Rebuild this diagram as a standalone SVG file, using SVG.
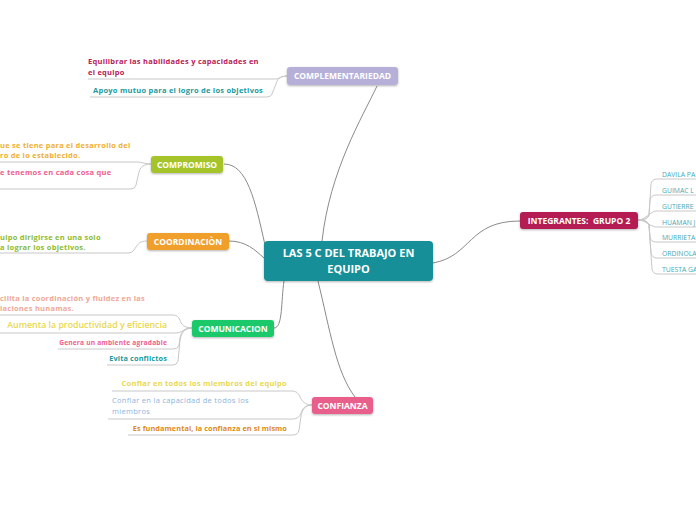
<svg xmlns="http://www.w3.org/2000/svg" width="696" height="520" viewBox="0 0 696 520">
<defs>
<filter id="sh" x="-10%" y="-20%" width="120%" height="150%"><feDropShadow dx="0" dy="1" stdDeviation="0.8" flood-color="#000" flood-opacity="0.3"/></filter>
<style>
text{font-family:"Open Sans","Noto Sans","DejaVu Sans",sans-serif}
.nt{fill:#fff;font-weight:bold;font-size:8.5px;text-anchor:middle}
.ct{fill:#fff;font-weight:bold;font-size:11px;text-anchor:middle}
.st{font-weight:bold;font-size:7.5px;letter-spacing:0.25px}
.rg{font-size:7.5px;letter-spacing:0.3px}
.nm{font-size:6.8px;fill:#45aab8}
.e{text-anchor:end}
.main{fill:none;stroke:#8a8a8a;stroke-width:1}
.sub{fill:none;stroke:#c8c8c8;stroke-width:1}
</style>
</defs>
<rect width="696" height="520" fill="#fff"/>
<g id="connectors">
<path class="main" d="M322,241 C330,170 362,118 377,86"/>
<path class="main" d="M224,164 C247,164 255,200 265,245"/>
<path class="main" d="M229,241 C246,241 255,250 264,258"/>
<path class="main" d="M274,328 C283,328 281,300 284,281"/>
<path class="main" d="M318,281 C330,330 336,372 355,397"/>
<path class="main" d="M433,263 C472,256 468,221 520,221"/>
<path class="sub" d="M287,76 C281,76 280,79 275,79 L88,79"/>
<path class="sub" d="M287,76 C279,76 277,80 276,84 L272,94 Q271,97 267,97 L90,97"/>
<path class="sub" d="M151,164 C145,164 142,162 137,162 L0,162"/>
<path class="sub" d="M151,164 C143,164 140,168 139,172 L136,185 Q135,189 131,189 L0,189"/>
<path class="sub" d="M147,241 C140,241 138,244 136,247 L134,250 Q132,253 128,253 L0,253"/>
<path class="sub" d="M192,328 C184,328 181,324 180,320 Q178,315 173,315 L0,315"/>
<path class="sub" d="M192,328 C184,328 182,333 176,333 L0,333"/>
<path class="sub" d="M192,328 C184,328 181,332 180,338 L179,345 Q178,349 174,349 L58,349"/>
<path class="sub" d="M192,328 C184,328 181,334 180,340 L178,361 Q177,365 173,365 L107,365"/>
<path class="sub" d="M312,405 C305,405 302,401 300,397 Q298,391 292,391 L112,391"/>
<path class="sub" d="M312,405 C305,405 302,409 301,413 Q299,419 293,419 L108,419"/>
<path class="sub" d="M312,405 C305,405 302,410 301,416 L299,430 Q298,435 293,435 L128,435"/>
<path class="sub" d="M638,220 C645,220 648,218 649,215 L651,184 Q652,179 657,179 L696,179"/>
<path class="sub" d="M638,220 C645,220 648,218 649,215 L650,200 Q651,195 656,195 L696,195"/>
<path class="sub" d="M638,220 C646,220 650,211 657,211 L696,211"/>
<path class="sub" d="M638,220 C646,220 650,227 657,227 L696,227"/>
<path class="sub" d="M638,220 C645,220 648,222 649,225 L650,237 Q651,242 656,242 L696,242"/>
<path class="sub" d="M638,220 C645,220 648,222 649,225 L651,253 Q652,258 657,258 L696,258"/>
<path class="sub" d="M638,220 C645,220 648,222 649,225 L652,269 Q653,274 658,274 L696,274"/>
</g>
<g id="central">
<rect x="264" y="241" width="169" height="40" rx="4" fill="#138f98" filter="url(#sh)"/>
<text class="ct" x="348.5" y="257">LAS 5 C DEL TRABAJO EN</text>
<text class="ct" x="348.5" y="273">EQUIPO</text>
</g>
<g id="complementariedad">
<rect x="287" y="67" width="111" height="18" rx="3" fill="#b6b0d8" filter="url(#sh)"/>
<text class="nt" x="342.5" y="79">COMPLEMENTARIEDAD</text>
<text class="st" x="88" y="64" fill="#b82058">Equilibrar las habilidades y capacidades en</text>
<text class="st" x="88" y="75" fill="#b82058">el equipo</text>
<text class="st" x="93" y="93" fill="#1a9ba0">Apoyo mutuo para el logro de los objetivos</text>
</g>
<g id="compromiso">
<rect x="151" y="156" width="72" height="17" rx="3" fill="#a5c42b" filter="url(#sh)"/>
<text class="nt" x="187" y="167.5">COMPROMISO</text>
<text class="st" x="0" y="148" fill="#f0b030">ue se tiene para el desarrollo del</text>
<text class="st" x="0" y="158" fill="#f0b030">ro de lo establecido.</text>
<text class="st" x="0" y="175" fill="#f06090">e tenemos en cada cosa que</text>
</g>
<g id="coordinacion">
<rect x="147" y="233" width="82" height="17" rx="3" fill="#f0a02a" filter="url(#sh)"/>
<text class="nt" x="188" y="244.5">COORDINACIÒN</text>
<text class="st" x="0" y="239.5" fill="#8cbc34">uipo dirigirse en una solo</text>
<text class="st" x="0" y="249.5" fill="#8cbc34">a lograr los objetivos.</text>
</g>
<g id="comunicacion">
<rect x="192" y="320" width="82" height="17" rx="3" fill="#1dc96b" filter="url(#sh)"/>
<text class="nt" x="233" y="331.5">COMUNICACION</text>
<text class="st" x="0" y="301" fill="#f0a898">cilita la coordinación y fluidez en las</text>
<text class="st" x="0" y="311" fill="#f0a898">laciones hunamas.</text>
<text class="e" x="167" y="328" fill="#e8d850" font-size="8.8px" font-weight="600">Aumenta la productividad y eficiencia</text>
<text class="e" x="167" y="344.5" fill="#f06090" font-size="6.6px" font-weight="bold" letter-spacing="0.2px">Genera un ambiente agradable</text>
<text class="e" x="167" y="361" fill="#1a9ba0" font-size="7.3px" font-weight="bold" letter-spacing="0.15px">Evita conflictos</text>
</g>
<g id="confianza">
<rect x="312" y="397" width="61" height="17" rx="3" fill="#e95e8c" filter="url(#sh)"/>
<text class="nt" x="342.5" y="408.5">CONFIANZA</text>
<text class="st e" x="287" y="386" fill="#e8d850">Confiar en todos los miembros del equipo</text>
<text class="rg" x="112" y="403" fill="#8cb4dc">Confiar en la capacidad de todos los</text>
<text class="rg" x="112" y="414" fill="#8cb4dc">miembros</text>
<text class="e" x="287" y="431" fill="#e08a20" font-size="7.3px" font-weight="bold" letter-spacing="0.1px">Es fundamental, la confianza en si mismo</text>
</g>
<g id="integrantes">
<rect x="520" y="212" width="118" height="17" rx="3" fill="#b51f52" filter="url(#sh)"/>
<text class="nt" x="579" y="223.5" xml:space="preserve">INTEGRANTES:  GRUPO 2</text>
<text class="nm" x="662" y="176.5">DAVILA PA</text>
<text class="nm" x="662" y="192.5">GUIMAC L</text>
<text class="nm" x="662" y="208.5">GUTIERRE</text>
<text class="nm" x="662" y="224.5">HUAMAN J</text>
<text class="nm" x="662" y="239.5">MURRIETA</text>
<text class="nm" x="662" y="255.5">ORDINOLA</text>
<text class="nm" x="662" y="271.5">TUESTA GA</text>
</g>
</svg>
